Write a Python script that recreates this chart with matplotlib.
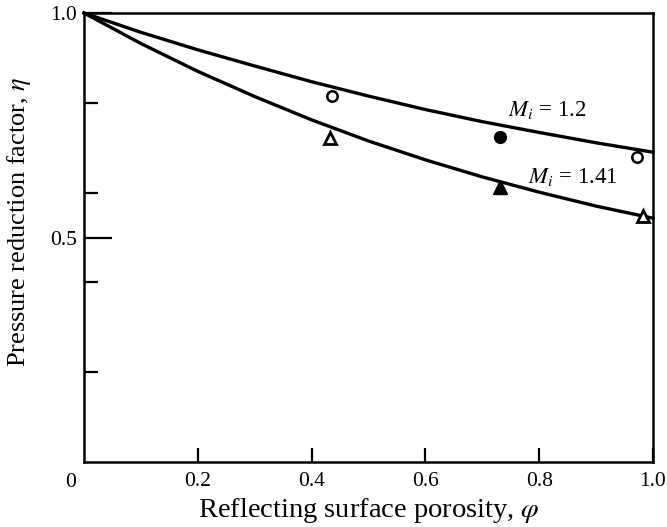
import numpy as np
import matplotlib.pyplot as plt

plt.rcParams['font.family'] = 'Liberation Serif'
plt.rcParams['mathtext.fontset'] = 'stix'

# curves
phi = [0.0, 0.1, 0.2, 0.3, 0.4, 0.5, 0.6, 0.7, 0.8, 0.9, 1.0]
eta_m12 = [1.0, 0.957, 0.918, 0.882, 0.847, 0.815, 0.785, 0.758, 0.734, 0.711, 0.69]
eta_m141 = [1.0, 0.932, 0.870, 0.814, 0.762, 0.715, 0.673, 0.635, 0.601, 0.570, 0.543]

# experimental points
open_circ_x = [0.436, 0.972]
open_circ_y = [0.815, 0.680]
fill_circ_x = [0.731]
fill_circ_y = [0.724]
open_tri_x = [0.432, 0.982]
open_tri_y = [0.722, 0.548]
fill_tri_x = [0.731]
fill_tri_y = [0.612]

fig = plt.figure(figsize=(6.67, 5.27), dpi=100)
ax = fig.add_axes([0.126, 0.1233, 0.853, 0.852])

ax.plot(phi, eta_m12, color='black', lw=2.4, clip_on=False)
ax.plot(phi, eta_m141, color='black', lw=2.4, clip_on=False)

ax.plot(open_circ_x, open_circ_y, 'o', ms=7.5, mfc='white', mec='black', mew=1.8, ls='none', clip_on=False)
ax.plot(fill_circ_x, fill_circ_y, 'o', ms=8.5, color='black', ls='none', clip_on=False)
ax.plot(open_tri_x, open_tri_y, '^', ms=8.5, mfc='white', mec='black', mew=2.0, ls='none', clip_on=False)
ax.plot(fill_tri_x, fill_tri_y, '^', ms=9.5, color='black', ls='none', clip_on=False)

ax.text(0.745, 0.784, r'$M_i$ = 1.2', fontsize=16.5, ha='left', va='center')
ax.text(0.780, 0.635, r'$M_i$ = 1.41', fontsize=16.5, ha='left', va='center')

ax.set_xlim(0, 1.0)
ax.set_ylim(0, 1.0)

ax.set_xticks([0.2, 0.4, 0.6, 0.8, 1.0])
ax.set_xticklabels(['0.2', '0.4', '0.6', '0.8', '1.0'])
ax.set_yticks([0.5, 1.0])
ax.set_yticklabels(['0.5', '1.0'])
ax.set_yticks([0.2, 0.4, 0.6, 0.8], minor=True)
ax.tick_params(axis='x', direction='in', length=10, width=1.6, labelsize=15.5, pad=7)
ax.tick_params(axis='y', which='major', direction='in', length=20, width=1.6, labelsize=15.5, pad=5)
ax.tick_params(axis='y', which='minor', direction='in', length=10, width=1.6)
ax.text(-0.024, -0.024, '0', fontsize=15.5, ha='center', va='top', transform=ax.transAxes)

for s in ax.spines.values():
    s.set_linewidth(1.8)

ax.set_xlabel(r'Reflecting surface porosity, $\varphi$', fontsize=20.5, labelpad=4)
ax.set_ylabel(r'Pressure reduction factor, $\eta$', fontsize=19)
ax.yaxis.set_label_coords(-0.090, 0.535)

fig.savefig('out.png', dpi=100)
